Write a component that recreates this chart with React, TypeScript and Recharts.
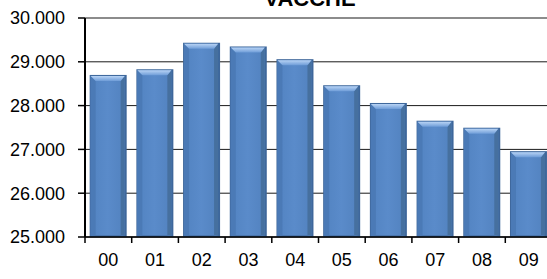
import React from "react";
import { BarChart, Bar, XAxis, YAxis, CartesianGrid } from "recharts";

const years = ["00", "01", "02", "03", "04", "05", "06", "07", "08", "09"];
const vacche = [28700, 28830, 29435, 29350, 29060, 28465, 28060, 27655, 27495, 26960];
const yTicks = [25000, 26000, 27000, 28000, 29000, 30000];

const data = years.map((name, i) => ({ name, vacche: vacche[i] }));

const CHART_W = 552;
const AXIS_X = 85;
const AXIS_Y = 237;
const BAND = (CHART_W - AXIS_X) / years.length;

const fmt = (v: number) => v.toLocaleString("it-IT", { minimumFractionDigits: 0 }).replace(",", ".");

const XTick = (props: any) => {
    const { x, payload } = props;
    return (
        <g>
            <line x1={x - BAND / 2} x2={x - BAND / 2} y1={AXIS_Y} y2={AXIS_Y + 6} stroke="#000" strokeWidth={1.5} />
            <text x={x} y={266} textAnchor="middle" fill="#000" fontSize={18} fontFamily="Liberation Sans, Arial, sans-serif">
                {payload.value}
            </text>
        </g>
    );
};

const BevelBar = (props: any) => {
    const { x, y, width: w, height: h } = props;
    if (!h || h <= 0) return null;
    const b = y + h;
    const d = 6;
    return (
        <g>
            <rect x={x} y={y} width={w} height={h} fill="#3E679B" />
            <rect x={x + 1} y={y + 1} width={w - 3} height={h - 2} fill="url(#face)" />
            <polygon points={`${x + 1},${y + 1} ${x + d},${y + d} ${x + d},${b - 2} ${x + 1},${b - 1}`} fill="#4B7AB6" />
            <polygon points={`${x + w - 2},${y + 1} ${x + w - d},${y + d} ${x + w - d},${b - 2} ${x + w - 2},${b - 1}`} fill="#46709F" />
            <polygon points={`${x + 1},${y + 1} ${x + w - 2},${y + 1} ${x + w - d},${y + d} ${x + d},${y + d}`} fill="url(#top)" />
            <polygon points={`${x + d},${b - 2} ${x + w - d},${b - 2} ${x + w - 2},${b - 1} ${x + 1},${b - 1}`} fill="#4A76AE" />
        </g>
    );
};

export default function App() {
    return (
        <div style={{ position: "absolute", left: 0, top: 0, width: 547, height: 279, overflow: "hidden", background: "#fff" }}>
            <svg width={0} height={0} style={{ position: "absolute" }}>
                <defs>
                    <linearGradient id="face" x1="0" y1="0" x2="1" y2="0">
                        <stop offset="0%" stopColor="#5283C1" />
                        <stop offset="50%" stopColor="#5A8BCA" />
                        <stop offset="100%" stopColor="#5282BF" />
                    </linearGradient>
                    <linearGradient id="top" x1="0" y1="0" x2="0" y2="1">
                        <stop offset="0%" stopColor="#B9D4F5" />
                        <stop offset="100%" stopColor="#6F9DD8" />
                    </linearGradient>
                </defs>
            </svg>
            <BarChart
                width={CHART_W}
                height={279}
                data={data}
                margin={{ top: 18, right: 0, bottom: 12, left: 0 }}
                barCategoryGap="10%"
            >
                <CartesianGrid vertical={false} stroke="#000" strokeWidth={1} strokeOpacity={0.9} />
                <XAxis
                    dataKey="name"
                    height={30}
                    axisLine={{ stroke: "#000", strokeWidth: 1.5 }}
                    tickLine={false}
                    tick={<XTick />}
                    interval={0}
                />
                <YAxis
                    width={AXIS_X}
                    domain={[25000, 30000]}
                    ticks={yTicks}
                    allowDataOverflow
                    axisLine={{ stroke: "#000", strokeWidth: 2 }}
                    tickLine={{ stroke: "#000", strokeWidth: 1.5 }}
                    tickSize={7}
                    tickMargin={13}
                    tickFormatter={fmt}
                    tick={{ fill: "#000", fontSize: 18, fontFamily: "Liberation Sans, Arial, sans-serif" }}
                />
                <Bar dataKey="vacche" shape={<BevelBar />} isAnimationActive={false} />
            </BarChart>
            <svg width={547} height={279} style={{ position: "absolute", left: 0, top: 0, pointerEvents: "none" }}>
                <text x={310} y={6} textAnchor="middle" fontSize={22} fontWeight="bold" fontFamily="Liberation Sans, Arial, sans-serif" fill="#000">
                    VACCHE
                </text>
            </svg>
        </div>
    );
}
